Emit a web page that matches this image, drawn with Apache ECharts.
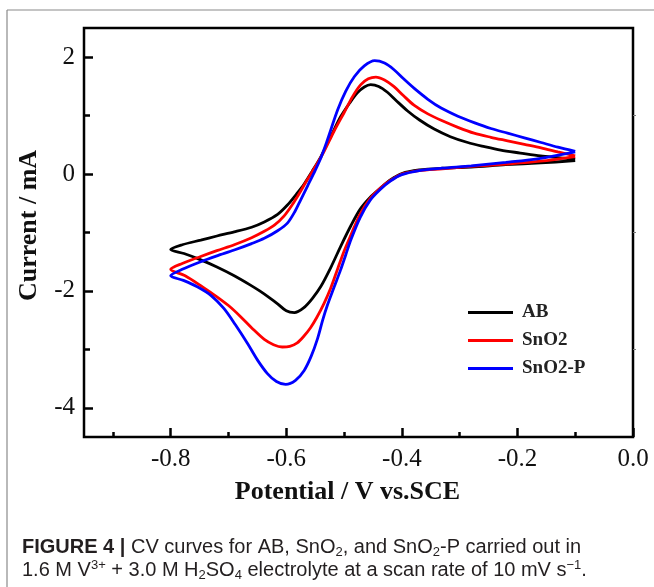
<!DOCTYPE html>
<html>
<head>
<meta charset="utf-8">
<script src="https://cdn.jsdelivr.net/npm/echarts@6/dist/echarts.min.js"></script>
<style>
html,body{margin:0;padding:0;background:#fff;}
#chart{width:654px;height:587px;}
</style>
</head>
<body>
<div id="chart"></div>
<script>
// ---- Data (Potential V vs SCE, Current mA); each loop: cathodic branch right->left, then anodic branch left->right
const seriesNames = ['AB', 'SnO2', 'SnO2-P'];
const seriesColors = ['#000000', '#ff0000', '#0000ff'];

const abLoop = [
  [-0.1, 0.23], [-0.16, 0.19], [-0.22, 0.16], [-0.28, 0.12], [-0.33, 0.10], [-0.37, 0.07], [-0.40, 0.01],
  [-0.42, -0.10], [-0.437, -0.24], [-0.455, -0.40], [-0.472, -0.60], [-0.488, -0.88], [-0.505, -1.22],
  [-0.523, -1.60], [-0.54, -1.92], [-0.555, -2.13], [-0.57, -2.29], [-0.586, -2.37], [-0.60, -2.34],
  [-0.615, -2.22], [-0.63, -2.11], [-0.646, -2.00], [-0.662, -1.90], [-0.69, -1.74], [-0.72, -1.59],
  [-0.75, -1.46], [-0.777, -1.36], [-0.8, -1.29],
  [-0.78, -1.21], [-0.748, -1.13], [-0.72, -1.06], [-0.69, -0.99], [-0.66, -0.91], [-0.638, -0.82],
  [-0.615, -0.69], [-0.598, -0.53], [-0.583, -0.35], [-0.569, -0.17], [-0.555, 0.05], [-0.54, 0.30],
  [-0.522, 0.66], [-0.506, 0.98], [-0.49, 1.22], [-0.477, 1.39], [-0.465, 1.49], [-0.454, 1.53],
  [-0.44, 1.50], [-0.425, 1.40], [-0.41, 1.26], [-0.39, 1.08], [-0.37, 0.93], [-0.344, 0.77],
  [-0.316, 0.64], [-0.286, 0.54], [-0.257, 0.47], [-0.229, 0.41], [-0.195, 0.36], [-0.16, 0.31],
  [-0.13, 0.28], [-0.1, 0.25]
];

const sno2Loop = [
  [-0.1, 0.30], [-0.16, 0.22], [-0.22, 0.17], [-0.28, 0.13], [-0.33, 0.09], [-0.37, 0.06], [-0.40, 0.00],
  [-0.42, -0.11], [-0.437, -0.24], [-0.455, -0.42], [-0.472, -0.68], [-0.488, -1.04], [-0.50, -1.32],
  [-0.511, -1.62], [-0.523, -1.95], [-0.535, -2.22], [-0.547, -2.45], [-0.558, -2.63], [-0.57, -2.78],
  [-0.581, -2.89], [-0.594, -2.95], [-0.607, -2.96], [-0.622, -2.92], [-0.638, -2.83], [-0.658, -2.65],
  [-0.679, -2.44], [-0.70, -2.25], [-0.72, -2.10], [-0.745, -1.93], [-0.775, -1.74], [-0.8, -1.63],
  [-0.78, -1.53], [-0.748, -1.41], [-0.72, -1.31], [-0.69, -1.21], [-0.66, -1.09], [-0.638, -0.98],
  [-0.62, -0.87], [-0.604, -0.72], [-0.59, -0.53], [-0.578, -0.34], [-0.565, -0.12], [-0.55, 0.12],
  [-0.535, 0.38], [-0.518, 0.72], [-0.50, 1.05], [-0.485, 1.33], [-0.471, 1.53], [-0.458, 1.63],
  [-0.445, 1.66], [-0.43, 1.61], [-0.414, 1.50], [-0.397, 1.34], [-0.379, 1.18], [-0.355, 1.03],
  [-0.332, 0.92], [-0.303, 0.80], [-0.275, 0.70], [-0.246, 0.63], [-0.217, 0.57], [-0.188, 0.51],
  [-0.159, 0.45], [-0.13, 0.38], [-0.1, 0.31]
];

const sno2pLoop = [
  [-0.1, 0.38], [-0.16, 0.27], [-0.22, 0.20], [-0.28, 0.14], [-0.33, 0.10], [-0.37, 0.06], [-0.40, -0.01],
  [-0.42, -0.12], [-0.437, -0.26], [-0.455, -0.45], [-0.472, -0.74], [-0.488, -1.12], [-0.497, -1.38],
  [-0.506, -1.64], [-0.517, -1.93], [-0.529, -2.25], [-0.537, -2.50], [-0.546, -2.82], [-0.557, -3.12],
  [-0.569, -3.36], [-0.584, -3.53], [-0.601, -3.60], [-0.617, -3.55], [-0.633, -3.41], [-0.65, -3.18],
  [-0.667, -2.90], [-0.688, -2.58], [-0.708, -2.30], [-0.73, -2.08], [-0.754, -1.93], [-0.778, -1.82],
  [-0.8, -1.74],
  [-0.78, -1.63], [-0.748, -1.50], [-0.72, -1.40], [-0.69, -1.30], [-0.66, -1.19], [-0.638, -1.10],
  [-0.615, -0.97], [-0.598, -0.84], [-0.585, -0.64], [-0.575, -0.44], [-0.563, -0.20], [-0.552, 0.02],
  [-0.54, 0.28], [-0.53, 0.55], [-0.511, 1.10], [-0.497, 1.42], [-0.482, 1.67], [-0.465, 1.85],
  [-0.447, 1.94], [-0.43, 1.90], [-0.414, 1.79], [-0.397, 1.63], [-0.379, 1.47], [-0.355, 1.28],
  [-0.332, 1.13], [-0.303, 0.99], [-0.275, 0.88], [-0.246, 0.78], [-0.217, 0.70], [-0.188, 0.62],
  [-0.159, 0.54], [-0.13, 0.46], [-0.1, 0.39]
];

const xMajorTicks = [-0.8, -0.6, -0.4, -0.2, 0.0];
const xMinorTicks = [-0.9, -0.7, -0.5, -0.3, -0.1];
const yMajorTicks = [-4, -2, 0, 2];
const yMinorTicks = [-3, -1, 1];

const xRange = [-0.95, 0.0];
const yRange = [-4.5, 2.5];

const xTitle = 'Potential / V vs.SCE';
const yTitle = 'Current / mA';

// ---- Chart
const chart = echarts.init(document.getElementById('chart'), null, {renderer: 'canvas'});
const serif = 'Liberation Serif';
const loops = [abLoop, sno2Loop, sno2pLoop];

const option = {
  backgroundColor: '#ffffff',
  animation: false,
  grid: {
    left: 84, right: 21, top: 28, bottom: 150,
    show: true, borderColor: '#000', borderWidth: 2.5, backgroundColor: 'transparent'
  },
  xAxis: [
    {
      type: 'value', min: xRange[0], max: xRange[1], position: 'bottom',
      axisLine: {show: false, onZero: false},
      axisTick: {show: true, inside: true, length: 9, lineStyle: {color: '#000', width: 2.5}, customValues: xMajorTicks},
      axisLabel: {show: true, customValues: xMajorTicks, margin: 10, color: '#111', fontFamily: serif, fontSize: 25,
        formatter: v => Number(v).toFixed(1)},
      splitLine: {show: false},
      name: xTitle, nameLocation: 'middle', nameGap: 42,
      nameTextStyle: {fontFamily: serif, fontWeight: 'bold', fontSize: 26, color: '#111', padding: [0, 22, 0, 0]}
    },
    {
      type: 'value', min: xRange[0], max: xRange[1], position: 'bottom', gridIndex: 0,
      axisLine: {show: false, onZero: false},
      axisTick: {show: true, inside: true, length: 5, lineStyle: {color: '#000', width: 2.5}, customValues: xMinorTicks},
      axisLabel: {show: false},
      splitLine: {show: false}
    }
  ],
  yAxis: [
    {
      type: 'value', min: yRange[0], max: yRange[1], position: 'left',
      axisLine: {show: false, onZero: false},
      axisTick: {show: true, inside: true, length: 9, lineStyle: {color: '#000', width: 2.5}, customValues: yMajorTicks},
      axisLabel: {show: true, customValues: yMajorTicks, margin: 9, color: '#111', fontFamily: serif, fontSize: 25,
        formatter: v => String(v)},
      splitLine: {show: false},
      name: yTitle, nameLocation: 'middle', nameGap: 42, nameRotate: 90,
      nameTextStyle: {fontFamily: serif, fontWeight: 'bold', fontSize: 26, color: '#111', padding: [0, 0, 0, 14]}
    },
    {
      type: 'value', min: yRange[0], max: yRange[1], position: 'left', gridIndex: 0,
      axisLine: {show: false, onZero: false},
      axisTick: {show: true, inside: true, length: 6, lineStyle: {color: '#000', width: 2.5}, customValues: yMinorTicks},
      axisLabel: {show: false},
      splitLine: {show: false}
    },
    {
      type: 'value', min: yRange[0], max: yRange[1], position: 'right', gridIndex: 0,
      axisLine: {show: false, onZero: false},
      axisTick: {show: true, inside: false, length: 3, lineStyle: {color: '#777', width: 1}, customValues: yMinorTicks},
      axisLabel: {show: false},
      splitLine: {show: false}
    }
  ],
  legend: {
    orient: 'vertical', left: 463, top: 298, itemWidth: 45, itemHeight: 3, itemGap: 9,
    icon: 'rect',
    data: seriesNames,
    textStyle: {fontFamily: serif, fontWeight: 'bold', fontSize: 19, color: '#222', padding: [0, 0, 0, 4]}
  },
  series: seriesNames.map((name, i) => ({
    name: name, type: 'line', xAxisIndex: 0, yAxisIndex: 0,
    data: loops[i], symbol: 'none', smooth: 0.3,
    lineStyle: {color: seriesColors[i], width: 2.8},
    itemStyle: {color: seriesColors[i]},
    z: 2 + i
  })),
  graphic: [
    {type: 'line', shape: {x1: 7, y1: 10, x2: 654, y2: 10}, style: {stroke: '#8a8a8a', lineWidth: 1.2}, silent: true},
    {type: 'line', shape: {x1: 7, y1: 10, x2: 7, y2: 587}, style: {stroke: '#8a8a8a', lineWidth: 1.2}, silent: true},
    {
      type: 'text', left: 22, top: 536, silent: true,
      style: {
        text: '{b|FIGURE 4 |} {n|CV curves for AB, SnO}{s|2}{n|, and SnO}{s|2}{n|-P carried out in}\n' +
              '{n|1.6 M V}{p|3+}{n| + 3.0 M H}{s|2}{n|SO}{s|4}{n| electrolyte at a scan rate of 10 mV s}{p|\u22121}{n|.}',
        fill: '#231f20',
        fontFamily: 'Liberation Sans', fontSize: 20, lineHeight: 23,
        rich: {
          b: {fontFamily: 'Liberation Sans', fontWeight: 'bold', fontSize: 20, lineHeight: 23, verticalAlign: 'middle', fill: '#231f20'},
          n: {fontFamily: 'Liberation Sans', fontSize: 20, lineHeight: 23, verticalAlign: 'middle', fill: '#231f20'},
          s: {fontFamily: 'Liberation Sans', fontSize: 13, lineHeight: 13, verticalAlign: 'bottom', fill: '#231f20'},
          p: {fontFamily: 'Liberation Sans', fontSize: 13, lineHeight: 13, verticalAlign: 'top', fill: '#231f20'}
        }
      }
    }
  ]
};
chart.setOption(option);
</script>
</body>
</html>
